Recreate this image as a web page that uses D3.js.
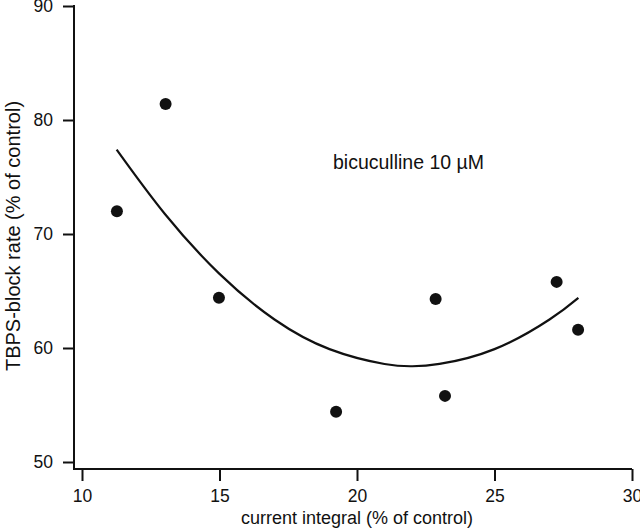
<!DOCTYPE html>
<html>
<head>
<meta charset="utf-8">
<script src="https://cdn.jsdelivr.net/npm/d3@7"></script>
<style>
  html, body { margin: 0; padding: 0; background: #fff; }
  svg { display: block; }
  text { font-family: "Liberation Sans", Arial, Helvetica, sans-serif; fill: #111; }
</style>
</head>
<body>
<svg id="chart" width="640" height="531"></svg>
<script>
// ---- data ----
const xTicks = [10, 15, 20, 25, 30];
const yTicks = [50, 60, 70, 80, 90];
const pointsX = [11.27, 13.04, 14.98, 19.24, 22.86, 23.2, 27.26, 28.04];
const pointsY = [72.0, 81.4, 64.4, 54.4, 64.3, 55.8, 65.8, 61.6];
// fitted curve
const curveX = [11.26, 13, 15, 17, 19, 21, 22, 23, 25, 27, 28.05];
const curveY = [77.4, 71.8, 66.5, 62.5, 59.9, 58.6, 58.4, 58.6, 59.9, 62.5, 64.4];
const annotation = "bicuculline 10 \u00B5M";
const xLabel = "current integral (% of control)";
const yLabel = "TBPS-block rate (% of control)";

const svg = d3.select("#chart");
const x = d3.scaleLinear().domain([10, 30]).range([82, 632]);
const y = d3.scaleLinear().domain([50, 90]).range([462, 6]);
const yAxisX = 74, xAxisY = 469;

// axes
const gx = svg.append("g").attr("transform", `translate(0,${xAxisY})`)
  .call(d3.axisBottom(x).tickValues(xTicks).tickSize(12).tickSizeOuter(0).tickPadding(9).tickFormat(d3.format("d")));
gx.attr("font-size", 17.5).attr("font-family", null);
gx.select(".domain").remove();
gx.selectAll(".tick line").attr("stroke", "#111").attr("stroke-width", 2);
gx.selectAll(".tick text").attr("fill", "#111");

const gy = svg.append("g").attr("transform", `translate(${yAxisX},0)`)
  .call(d3.axisLeft(y).tickValues(yTicks).tickSize(11).tickSizeOuter(0).tickPadding(10).tickFormat(d3.format("d")));
gy.attr("font-size", 17.5).attr("font-family", null);
gy.select(".domain").remove();
gy.selectAll(".tick line").attr("stroke", "#111").attr("stroke-width", 2);
gy.selectAll(".tick text").attr("fill", "#111");

svg.append("line").attr("x1", yAxisX).attr("x2", x(30)).attr("y1", xAxisY).attr("y2", xAxisY)
  .attr("stroke", "#111").attr("stroke-width", 2);
svg.append("line").attr("x1", yAxisX).attr("x2", yAxisX).attr("y1", y(90) - 1).attr("y2", xAxisY + 1)
  .attr("stroke", "#111").attr("stroke-width", 2);

// curve
const line = d3.line().x(d => x(d[0])).y(d => y(d[1])).curve(d3.curveNatural);
svg.append("path").datum(d3.zip(curveX, curveY)).attr("d", line)
  .attr("fill", "none").attr("stroke", "#111").attr("stroke-width", 2.2);

// points
svg.selectAll("circle.pt").data(d3.zip(pointsX, pointsY)).join("circle")
  .attr("class", "pt").attr("cx", d => x(d[0])).attr("cy", d => y(d[1])).attr("r", 6).attr("fill", "#111");

// texts
svg.append("text").attr("x", 333).attr("y", 169).style("font-size", "19.5px").text(annotation);
svg.append("text").attr("x", 357).attr("y", 524).attr("text-anchor", "middle").style("font-size", "18px").text(xLabel);
svg.append("text").attr("transform", `translate(20,236) rotate(-90)`).attr("text-anchor", "middle")
  .style("font-size", "20px").text(yLabel);
</script>
</body>
</html>
